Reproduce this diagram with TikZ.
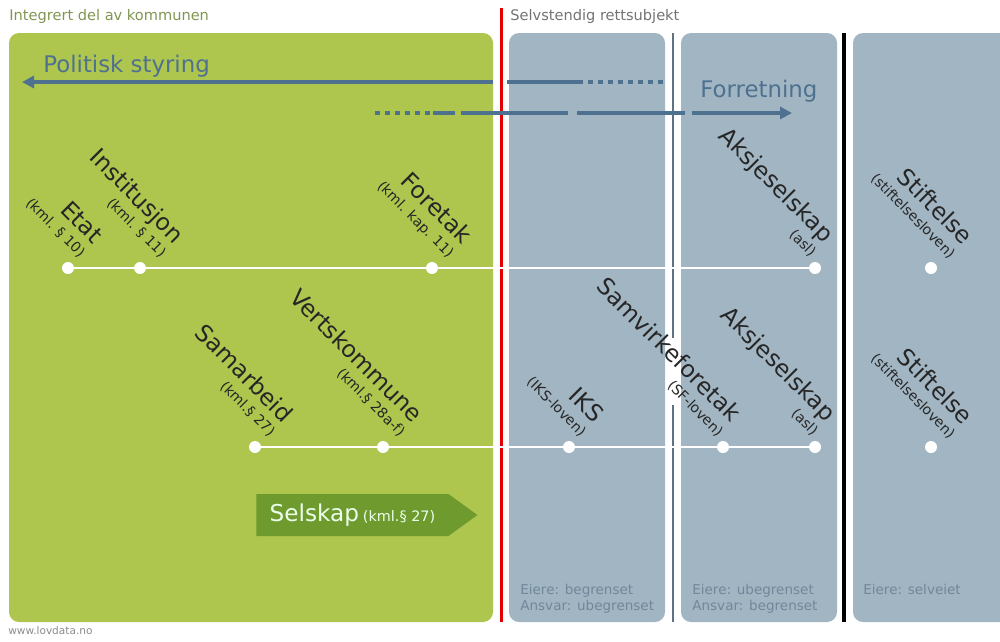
\documentclass[tikz,border=0pt]{standalone}
\usepackage{fontspec}
\setmainfont{DejaVu Sans}
\usepackage{xcolor}
\usepackage{tikz}
\usetikzlibrary{arrows.meta, shapes.symbols}

\definecolor{kommgreen}{HTML}{AEC54E}
\definecolor{rettblue}{HTML}{A2B5C3}
\definecolor{styrblue}{HTML}{4F7190}
\definecolor{selskgreen}{HTML}{6E9A2E}
\definecolor{notegrey}{HTML}{71879A}
\definecolor{headgreen}{HTML}{7F9650}
\definecolor{sepgrey}{HTML}{5E7282}

\newcommand{\lawref}[1]{{\fontsize{8}{11}\selectfont #1}}

\begin{document}
\begin{tikzpicture}[x=0.2mm, y=-0.2mm,
    header/.style={anchor=base west, inner sep=0, font=\fontsize{8.3}{10}\selectfont},
    form/.style={rotate=-45, anchor=south east, align=right, inner sep=0, text=black!85, font=\fontsize{13.3}{11}\selectfont},
    dot/.style={circle, fill=white, inner sep=0, minimum size=2.4mm},
    rowline/.style={white, line width=0.4mm},
    flow/.style={styrblue, line width=0.8mm},
    dots/.style={flow, dash pattern=on 1mm off 1mm},
    head/.style={-{Triangle[length=2.4mm, width=2.4mm]}},
    flowlabel/.style={anchor=base west, inner sep=0, text=styrblue, font=\fontsize{13}{15}\selectfont},
    note/.style={anchor=north west, inner sep=0, align=left, text=notegrey, font=\fontsize{7.7}{9.2}\selectfont},
    selskap/.style={signal, signal to=east, signal pointer angle=72, fill=selskgreen, text=white!92!green,
        minimum width=44.2mm, minimum height=8.4mm, font=\fontsize{13.2}{15}\selectfont}
]
    \useasboundingbox (0,0) rectangle (1000,641);

    \fill[kommgreen, rounded corners=2mm] (9,33) rectangle (493,622);
    \fill[rettblue, rounded corners=2mm] (509,33) rectangle (665,622);
    \fill[rettblue, rounded corners=2mm] (681,33) rectangle (837,622);
    \fill[rettblue, rounded corners=2mm] (853,33) rectangle (1020,622);

    \draw[red!90!black, line width=0.6mm] (501,8) -- (501,622);
    \draw[sepgrey, line width=0.4mm] (673,33) -- (673,338);
    \draw[sepgrey, line width=0.4mm] (673,405) -- (673,622);
    \draw[black, line width=0.8mm] (844,33) -- (844,622);

    \node[header, text=headgreen] (kommhead) at (9,20) {Integrert del av kommunen};
    \node[header, text=black!55] (retthead) at (510,20) {Selvstendig rettsubjekt};

    \node[flowlabel] (politisk) at (43,72) {Politisk styring};
    \node[flowlabel] (forretning) at (700,97) {Forretning};

    \coordinate (polA) at (663,82);
    \coordinate (polB) at (583,82);
    \coordinate (polE) at (22,82);
    \draw[dots] (polA) -- (polB);
    \draw[flow, head, dash pattern=on 15.2mm off 2.8mm on 120mm] (polB) -- (polE);

    \coordinate (forA) at (375,113);
    \coordinate (forB) at (430,113);
    \coordinate (forC) at (433,113);
    \coordinate (forD) at (792,113);
    \draw[dots] (forA) -- (forB);
    \draw[flow, head, dash pattern=on 4.4mm off 1.2mm on 21.4mm off 1.8mm on 21.6mm off 1.4mm on 30mm] (forC) -- (forD);

    \node[dot] (etat) at (68,268) {};
    \node[dot] (institusjon) at (140,268) {};
    \node[dot] (foretak) at (432,268) {};
    \node[dot] (aksjeA) at (815,268) {};
    \node[dot] (stiftA) at (931,268) {};
    \draw[rowline] (etat) -- (institusjon) -- (foretak) -- (aksjeA);

    \node[dot] (samarbeid) at (255,447) {};
    \node[dot] (vertskommune) at (383,447) {};
    \node[dot] (iks) at (569,447) {};
    \node[dot] (samvirke) at (723,447) {};
    \node[dot] (aksjeB) at (815,447) {};
    \node[dot] (stiftB) at (931,447) {};
    \draw[rowline] (samarbeid) -- (vertskommune) -- (iks) -- (samvirke) -- (aksjeB);

    \node[form] (etatlbl) at (78,260) {Etat\\\lawref{(kml. § 10)}};
    \node[form] (institusjonlbl) at (159,260) {Institusjon\\\lawref{(kml. § 11)}};
    \node[form] (foretaklbl) at (446,261) {Foretak\\\lawref{(kml. kap. 11)}};
    \node[form] (aksjeAlbl) at (809,259) {Aksjeselskap\\\lawref{(asl)}};
    \node[form] (stiftAlbl) at (948,261) {Stiftelse\\\lawref{(stiftelsesloven)}};

    \node[form] (samarbeidlbl) at (268,439) {Samarbeid\\\lawref{(kml.§ 27)}};
    \node[form] (vertskommunelbl) at (398,439) {Vertskommune\\\lawref{(kml.§ 28a-f)}};
    \node[form] (ikslbl) at (579,439) {IKS\\\lawref{(IKS-loven)}};
    \node[form] (samvirkelbl) at (716,439) {Samvirkeforetak\\\lawref{(SF-loven)}};
    \node[form] (aksjeBlbl) at (811,438) {Aksjeselskap\\\lawref{(asl)}};
    \node[form] (stiftBlbl) at (948,441) {Stiftelse\\\lawref{(stiftelsesloven)}};

    \node[selskap, anchor=west] (selskap) at (256,515) {Selskap\,{\fontsize{8.2}{10}\selectfont(kml.§ 27)}};

    \node[note] (iksnote) at (520,584) {Eiere: begrenset\\Ansvar: ubegrenset};
    \node[note] (asnote) at (692,584) {Eiere: ubegrenset\\Ansvar: begrenset};
    \node[note] (stiftnote) at (863,584) {Eiere: selveiet};

    \node[anchor=base west, inner sep=0, text=black!45, font=\fontsize{6}{7}\selectfont] (lovdata) at (8,634) {www.lovdata.no};
\end{tikzpicture}
\end{document}
